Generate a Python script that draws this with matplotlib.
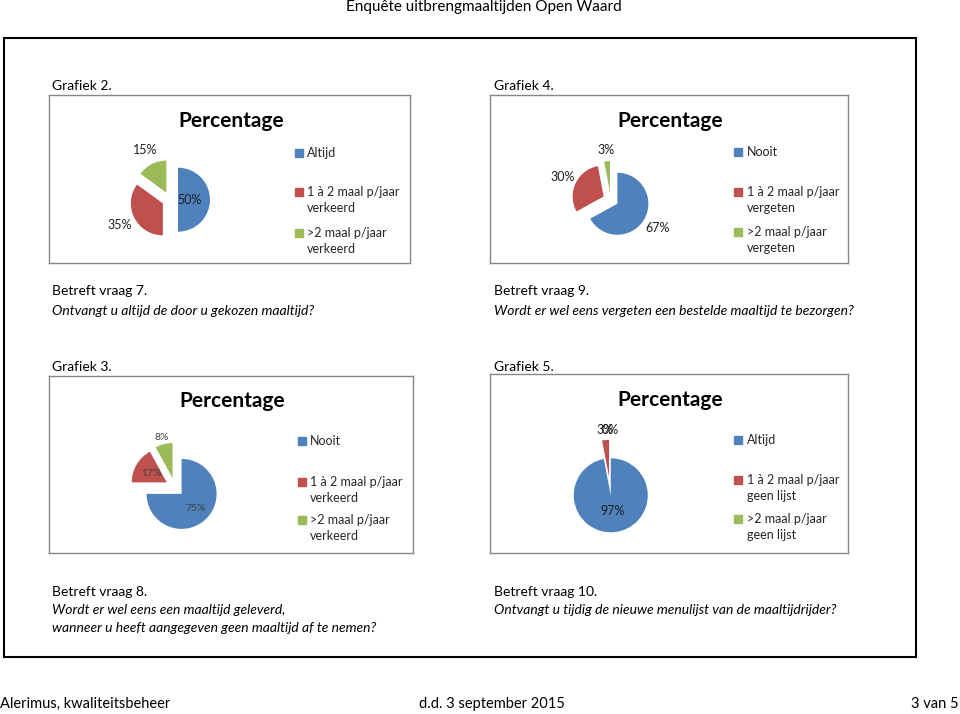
import numpy as np
import matplotlib
matplotlib.use('Agg')
import matplotlib.pyplot as plt
from matplotlib.patches import Rectangle

plt.rcParams['font.family'] = ['Lato', 'DejaVu Sans']

# data per grafiek
labels2 = ['Altijd', '1 à 2 maal p/jaar\nverkeerd', '>2 maal p/jaar\nverkeerd']
values2 = [50, 35, 15]
labels4 = ['Nooit', '1 à 2 maal p/jaar\nvergeten', '>2 maal p/jaar\nvergeten']
values4 = [67, 30, 3]
labels3 = ['Nooit', '1 à 2 maal p/jaar\nverkeerd', '>2 maal p/jaar\nverkeerd']
values3 = [75, 17, 8]
labels5 = ['Altijd', '1 à 2 maal p/jaar\ngeen lijst', '>2 maal p/jaar\ngeen lijst']
values5 = [97, 3, 0]
kleuren = ['#4F81BD', '#C0504D', '#9BBB59']

W, H = 960, 714
fig = plt.figure(figsize=(W / 100, H / 100), dpi=100)


def fx(x):
    return x / W


def fy(y):
    return 1 - y / H


def tekst(x, y, s, **kw):
    fig.text(fx(x), fy(y), s, va='center', ha=kw.pop('ha', 'left'),
             fontsize=kw.pop('fontsize', 10), color=kw.pop('color', 'black'), **kw)


def grafiek(box, titel_xy, values, labels, c0, r, expl, dists, lsize, lcol,
            mx, tx, ys):
    x0, y0, x1, y1 = box
    bax = fig.add_axes([fx(x0), fy(y1), (x1 - x0) / W, (y1 - y0) / H])
    bax.set_xlim(x0, x1)
    bax.set_ylim(y1, y0)
    bax.set_xticks([])
    bax.set_yticks([])
    for s in bax.spines.values():
        s.set_color('#868686')
        s.set_linewidth(1)
    bax.text(titel_xy[0], titel_xy[1], 'Percentage', ha='center', va='baseline',
             fontsize=15, fontweight='bold', color='black')
    # legenda
    for lab, kl, y in zip(labels, kleuren, ys):
        bax.plot(mx, y, marker='s', ms=5.6, color=kl, mec=kl, ls='none')
        for j, regel in enumerate(lab.split('\n')):
            bax.text(tx, y + j * 16, regel, ha='left', va='center',
                     fontsize=9, color='#262626')

    # taart
    cx, cy = c0
    ax = fig.add_axes([fx(cx - 2 * r), fy(cy + 2 * r), 4 * r / W, 4 * r / H])
    wedges, texts, autot = ax.pie(values, colors=kleuren, startangle=90,
                                  counterclock=False, explode=[expl] * len(values),
                                  autopct='%.0f%%', radius=1,
                                  wedgeprops=dict(linewidth=0),
                                  textprops=dict(fontsize=lsize, color=lcol))
    for w, t, d in zip(wedges, autot, dists):
        th = np.deg2rad((w.theta1 + w.theta2) / 2)
        wx, wy = w.center
        t.set_position((wx + d * np.cos(th), wy + d * np.sin(th)))
        t.set_ha('center')
        t.set_va('center')
    ax.set_xlim(-2, 2)
    ax.set_ylim(-2, 2)
    ax.set_aspect('equal')
    ax.axis('off')


grafiek((49, 95, 410, 263), (231, 127), values2, labels2, (170, 199.7), 32, 0.25,
        [0.375, 1.52, 1.48], 9, '#1f1f1f', 299, 307, [153.3, 192.3, 232.7])
grafiek((490, 95, 848, 263), (670, 127), values4, labels4, (610.7, 199.8), 31, 0.25,
        [1.51, 1.48, 1.36], 9, '#1f1f1f', 738.3, 746.7, [152.3, 191.7, 231.7])
grafiek((49, 376, 413, 553), (231.7, 407), values3, labels3, (174.9, 487.2), 35, 0.27,
        [0.58, 0.51, 1.21], 7.5, '#404040', 302.3, 310, [440.7, 481.7, 520])
grafiek((490, 374, 848, 553), (670, 406), values5, labels5, (609.9, 486.1), 37, 0.25,
        [0.42, 1.27, 1.27], 9, '#1f1f1f', 738.3, 746.7, [440, 480, 519.3])

# pagina
fig.add_artist(Rectangle((fx(4), fy(657)), (916 - 4) / W, (657 - 38) / H,
                         fill=False, lw=1.5, ec='black', transform=fig.transFigure))

tekst(484, 7, 'Enquête uitbrengmaaltijden Open Waard', ha='center', fontsize=11)

tekst(52, 86, 'Grafiek 2.')
tekst(494, 86, 'Grafiek 4.')
tekst(52, 291, 'Betreft vraag 7.')
tekst(52, 311, 'Ontvangt u altijd de door u gekozen maaltijd?', style='italic')
tekst(494, 291, 'Betreft vraag 9.')
tekst(494, 311, 'Wordt er wel eens vergeten een bestelde maaltijd te bezorgen?', style='italic')

tekst(52, 367, 'Grafiek 3.')
tekst(494, 367, 'Grafiek 5.')
tekst(52, 592, 'Betreft vraag 8.')
tekst(52, 610, 'Wordt er wel eens een maaltijd geleverd,', style='italic')
tekst(52, 628, 'wanneer u heeft aangegeven geen maaltijd af te nemen?', style='italic')
tekst(494, 592, 'Betreft vraag 10.')
tekst(494, 610, 'Ontvangt u tijdig de nieuwe menulijst van de maaltijdrijder?', style='italic')

tekst(0, 704, 'Alerimus, kwaliteitsbeheer', fontsize=10.5)
tekst(419, 704, 'd.d. 3 september 2015', fontsize=10.5)
tekst(959, 704, '3 van 5', ha='right', fontsize=10.5)

fig.savefig('out.png', dpi=100)
